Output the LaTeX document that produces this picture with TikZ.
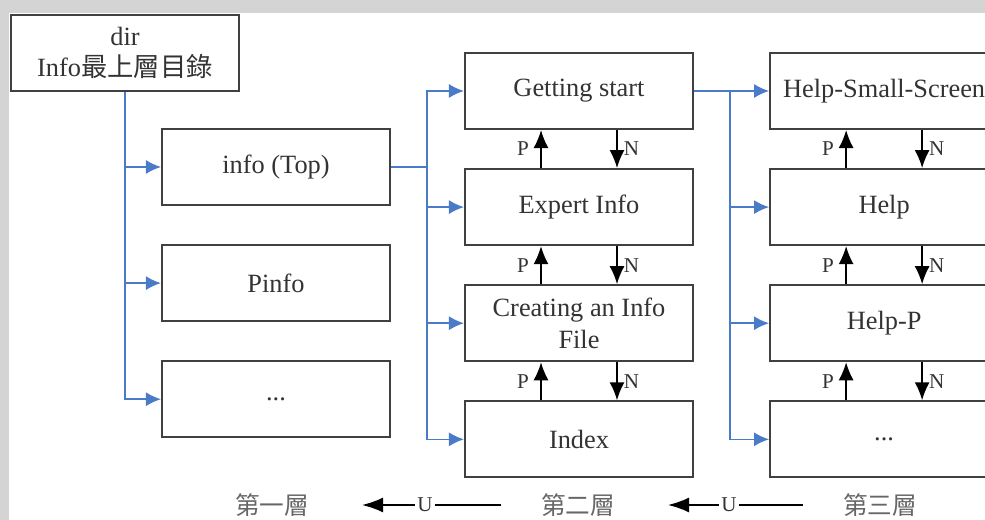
\documentclass[tikz,border=0pt]{standalone}
\usepackage{fontspec}
\setmainfont{Liberation Serif}
\newfontfamily\cjk{Noto Sans CJK TC}
\usepackage{tikz}
\usetikzlibrary{positioning,arrows.meta}
\definecolor{INBlue}{HTML}{4A7BC8}
\definecolor{INLine}{HTML}{404040}
\definecolor{INText}{HTML}{333333}
\definecolor{INGray}{HTML}{D4D4D4}
\tikzset{
  pagebox/.style={draw=INLine,line width=1.2pt,minimum width=4.56cm,minimum height=1.52cm,align=center,text=INText,font=\fontsize{15}{18}\selectfont},
  link/.style={INBlue,line width=0.9pt,-{Latex[length=0.3cm,width=0.28cm]}},
  pn/.style={black,line width=0.9pt,-{Latex[length=0.36cm,width=0.3cm]}},
  pnlab/.style={text=INText,font=\fontsize{12}{14}\selectfont,inner sep=1.5pt},
  level/.style={text=INText!75,font=\cjk\fontsize{14}{16}\selectfont},
  uarrow/.style={black,line width=0.8pt,-{Latex[length=0.42cm,width=0.3cm]},shorten <=0.68cm,shorten >=0.94cm}
}

\begin{document}
\begin{tikzpicture}[x=1cm,y=1cm,node distance=0.76cm]
\path[use as bounding box] (0,0) rectangle (19.70,10.40);
\clip (0,0) rectangle (19.70,10.40);
\fill[INGray] (0,0) rectangle (19.70,10.40);
\fill[white] (0.18,0) rectangle (19.70,10.14);
\node[pagebox,font=\fontsize{15}{17.5}\selectfont] (dir) at (2.50,9.34) {dir\\Info{\cjk 最上層目錄}};
\node[pagebox] (top) at (5.52,7.06) {info (Top)};
\node[pagebox,below=of top] (pinfo) {Pinfo};
\node[pagebox,below=of pinfo] (dots1) {...};
\node[pagebox] (gs) at (11.58,8.58) {Getting start};
\node[pagebox,below=of gs] (ei) {Expert Info};
\node[pagebox,below=of ei] (cf) {Creating an Info\\File};
\node[pagebox,below=of cf] (ix) {Index};
\node[pagebox,right=1.5cm of gs] (hs) {Help-Small-Screen};
\node[pagebox,below=of hs] (hp) {Help};
\node[pagebox,below=of hp] (hpp) {Help-P};
\node[pagebox,below=of hpp] (hd) {...};
\foreach \n in {top,pinfo,dots1}
  \draw[link] (dir.south) |- (\n.west);
\coordinate (j2) at (8.54,7.06);
\draw[INBlue,line width=0.9pt] (top.east) -- (j2);
\foreach \n in {gs,ei,cf,ix}
  \draw[link] (j2) |- (\n.west);
\coordinate (j3) at (14.60,8.58);
\draw[INBlue,line width=0.9pt] (gs.east) -- (j3);
\foreach \n in {hs,hp,hpp,hd}
  \draw[link] (j3) |- (\n.west);
\foreach \a/\b in {gs/ei,ei/cf,cf/ix,hs/hp,hp/hpp,hpp/hd}{
  \draw[pn] ([xshift=-0.76cm]\b.north) -- node[left=5pt,pnlab] {P} ([xshift=-0.76cm]\a.south);
  \draw[pn] ([xshift=0.76cm]\a.south) -- node[right=2pt,pnlab] {N} ([xshift=0.76cm]\b.north);
}
\node[level] (l1) at (5.44,0.30) {第一層};
\node[level] (l2) at (11.56,0.30) {第二層};
\node[level] (l3) at (17.60,0.30) {第三層};
\draw[uarrow] (l2) -- node[fill=white,pnlab] {U} (l1);
\draw[uarrow] (l3) -- node[fill=white,pnlab] {U} (l2);
\end{tikzpicture}
\end{document}
